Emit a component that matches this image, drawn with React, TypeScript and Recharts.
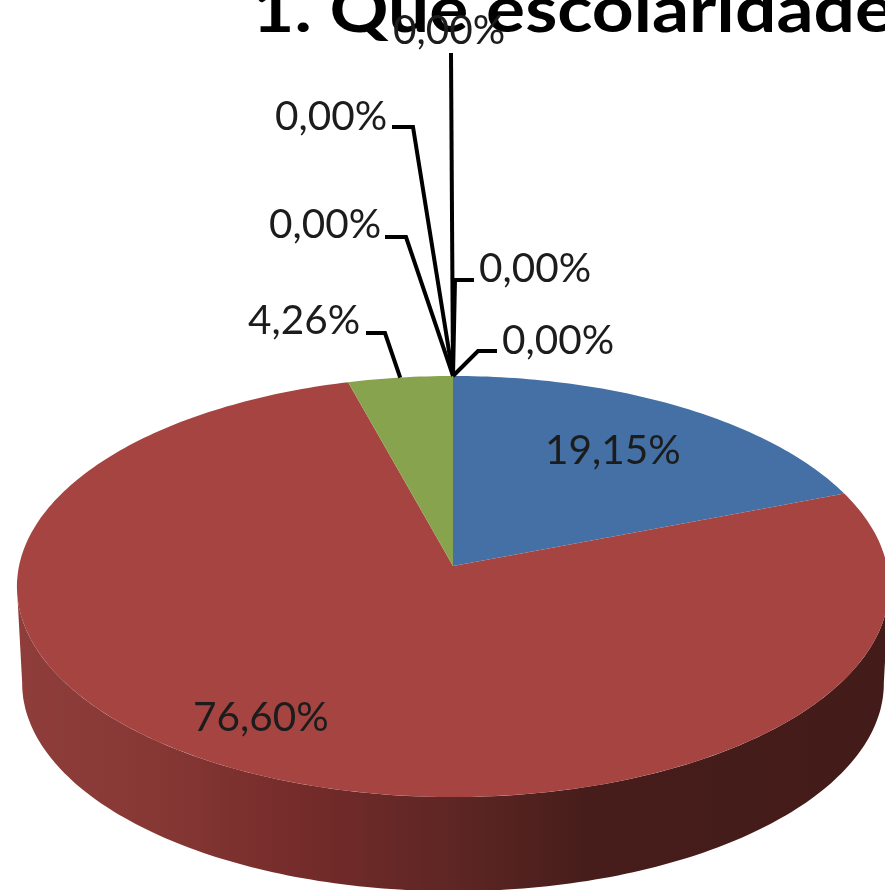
import { Pie, PieChart } from "recharts";

const categories = ["A", "B", "C", "D", "E", "F", "G", "H"];
const shares = [19.15, 76.6, 4.26, 0, 0, 0, 0, 0];
const colors = ["#4470a5", "#a64441", "#88a34d", "#80699b", "#3d96ae", "#db843d", "#92a8cd", "#a47d7c"];

const data = categories.map((name, i) => ({ name, value: shares[i], fill: colors[i] }));

// Excel 3D pie look: tilted disc, apex sits above the ellipse centre
const TILT = 0.4805;
const PERSPECTIVE = 0.0974;
const DEPTH = 97;
const BOTTOM_SCALE = 0.988;

const TEXT_COLOR = "#1c1c1c";
const FONT = "Lato, 'Open Sans', sans-serif";

// hand-dragged label boxes from the original chart, by slice index
const labelLayout: Record<number, { x: number; y: number; path?: number[][] }> = {
  0: { x: 545, y: 464 },
  1: { x: 193, y: 731 },
  2: { x: 248, y: 334, path: [[385, 333], [366, 333]] },
  3: { x: 269, y: 238, path: [[406, 237], [385, 237]] },
  4: { x: 275, y: 130, path: [[413, 127], [392, 127]] },
  5: { x: 393, y: 44, path: [[451, 53]] },
  6: { x: 479, y: 282, path: [[455, 280], [474, 280]] },
  7: { x: 502, y: 354, path: [[478, 351], [497, 351]] },
};

function project(cx: number, cy: number, r: number, deg: number) {
  const a = (deg * Math.PI) / 180;
  const d = 1 + PERSPECTIVE * Math.cos(a);
  return { x: cx + (r * Math.sin(a)) / d, y: cy - (r * TILT * Math.cos(a)) / d };
}

function rim(cx: number, cy: number, r: number, from: number, to: number) {
  const pts = [];
  const n = Math.max(1, Math.ceil(Math.abs(to - from)));
  for (let i = 0; i <= n; i++) pts.push(project(cx, cy, r, from + ((to - from) * i) / n));
  return pts;
}

function lower(p: { x: number; y: number }, cx: number, cy: number) {
  return {
    x: cx + (p.x - cx) * BOTTOM_SCALE,
    y: cy + (p.y - cy) * BOTTOM_SCALE + DEPTH,
  };
}

const toPath = (pts: { x: number; y: number }[]) =>
  pts.map((p, i) => `${i ? "L" : "M"}${p.x.toFixed(1)},${p.y.toFixed(1)}`).join(" ");

function Slice3D(props: any) {
  const { cx, cy, outerRadius, startAngle, endAngle, fill } = props;
  const from = 90 - startAngle;
  const to = 90 - endAngle;
  if (Math.abs(to - from) < 0.01) return null;

  const tangent = (Math.acos(-PERSPECTIVE) * 180) / Math.PI;
  const wallFrom = Math.max(from, tangent);
  const wallTo = Math.min(to, 360 - tangent);
  const top = rim(cx, cy, outerRadius, wallFrom, wallTo);

  return (
    <g>
      {wallTo > wallFrom && (
        <path
          d={`${toPath(top)} ${toPath(top.map((p) => lower(p, cx, cy)).reverse()).replace("M", "L")} Z`}
          fill="url(#wallShade)"
        />
      )}
      <path d={`M${cx},${cy} ${toPath(rim(cx, cy, outerRadius, from, to)).replace("M", "L")} Z`} fill={fill} />
    </g>
  );
}

function SliceLabel(props: any) {
  const { cx, cy, outerRadius, midAngle, value, index } = props;
  const box = labelLayout[index];
  const anchor = project(cx, cy, outerRadius, 90 - midAngle);
  return (
    <g>
      {box.path && (
        <polyline
          points={[[anchor.x, anchor.y], ...box.path].map((p) => p.join(",")).join(" ")}
          fill="none"
          stroke="#000"
          strokeWidth={4}
        />
      )}
      <text x={box.x} y={box.y} fontFamily={FONT} fontSize={40.5} fill={TEXT_COLOR}>
        {value.toFixed(2).replace(".", ",")}%
      </text>
    </g>
  );
}

export default function App() {
  return (
    <div style={{ position: "absolute", left: 0, top: 0, width: 885, height: 890, overflow: "hidden", filter: "blur(0.7px)" }}>
      <PieChart width={885} height={890} margin={{ top: 0, right: 0, bottom: 0, left: 0 }}>
        <defs>
          <linearGradient id="wallShade" gradientUnits="userSpaceOnUse" x1={20} y1={0} x2={885} y2={0}>
            <stop offset="0" stopColor="#8e3d3a" />
            <stop offset="0.15" stopColor="#873835" />
            <stop offset="0.32" stopColor="#752c2a" />
            <stop offset="0.5" stopColor="#5e2624" />
            <stop offset="0.66" stopColor="#461d1a" />
            <stop offset="1" stopColor="#431b18" />
          </linearGradient>
        </defs>
        <text
          x={252}
          y={32}
          fontFamily={FONT}
          fontWeight={700}
          fontSize={64}
          textLength={642}
          lengthAdjust="spacingAndGlyphs"
          fill="#000"
        >
          1. Que escolaridade
        </text>
        <Pie
          data={data}
          dataKey="value"
          cx={453}
          cy={566}
          outerRadius={434}
          startAngle={90}
          endAngle={-270}
          stroke="none"
          shape={Slice3D}
          label={SliceLabel}
          labelLine={false}
          isAnimationActive={false}
        />
      </PieChart>
    </div>
  );
}
